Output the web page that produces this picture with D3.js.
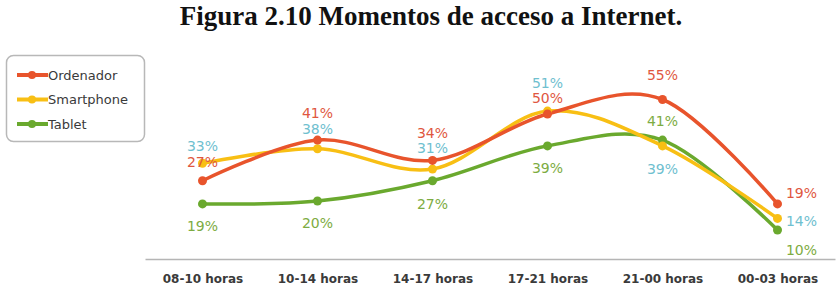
<!DOCTYPE html>
<html>
<head>
<meta charset="utf-8">
<script src="https://cdn.jsdelivr.net/npm/d3@7"></script>
<style>
  body { margin: 0; background: #fff; }
  svg { display: block; }
</style>
</head>
<body>
<div id="container"></div>
<script>
/* DATA */
const categories = ["08-10 horas", "10-14 horas", "14-17 horas", "17-21 horas", "21-00 horas", "00-03 horas"];
const ordenador = [27, 41, 34, 50, 55, 19];
const smartphone = [33, 38, 31, 51, 39, 14];
const tablet = [19, 20, 27, 39, 41, 10];
const seriesNames = ["Ordenador", "Smartphone", "Tablet"];

/* CONSTANTS */
const width = 839;
const height = 299;

// label offsets (dx, dy) from each point, per series
const labelOffsets = {
  Ordenador:  [[0, -19], [0, -27], [0, -27], [0, -16], [0, -24], [24, -11]],
  Smartphone: [[0, -17], [0, -20], [0, -21], [0, -28], [0, 23], [24, 3]],
  Tablet:     [[0, 22], [0, 22], [0, 23], [0, 22], [0, -19], [24, 20]]
};

const lineColors = { Ordenador: "#e8542c", Smartphone: "#f8bf14", Tablet: "#6aa92e" };
const textColors = { Ordenador: "#e0573f", Smartphone: "#6fc0cf", Tablet: "#7dac42" };

const series = [
  { name: "Ordenador", values: ordenador },
  { name: "Smartphone", values: smartphone },
  { name: "Tablet", values: tablet }
];

const svg = d3.select("#container")
  .append("svg")
  .attr("width", width)
  .attr("height", height);

// title
svg.append("text")
  .attr("x", 431)
  .attr("y", 25)
  .attr("text-anchor", "middle")
  .style("font-family", "'Liberation Serif', 'Times New Roman', serif")
  .style("font-weight", "bold")
  .style("font-size", "27px")
  .attr("fill", "#111")
  .text("Figura 2.10 Momentos de acceso a Internet.");

/* SCALES */
const xScale = d3.scalePoint()
  .domain(categories)
  .range([145, 835])
  .padding(0.5);

const yScale = d3.scaleLinear()
  .domain([0, 55])
  .range([259, 99.5]);

/* AXIS */
const xAxis = svg.append("g")
  .attr("transform", "translate(0," + yScale(0) + ")")
  .call(d3.axisBottom(xScale).tickSize(0).tickPadding(15));

xAxis.select(".domain")
  .attr("stroke", "#b5b5b5")
  .attr("stroke-width", 1.5);

xAxis.selectAll("text")
  .style("font-family", "'DejaVu Sans', Verdana, sans-serif")
  .style("font-size", "12px")
  .style("font-weight", "bold")
  .attr("fill", "#3a3a3a");

/* LINES */
const line = d3.line()
  .x((d, i) => xScale(categories[i]))
  .y(d => yScale(d))
  .curve(d3.curveCardinal);

// draw tablet first, ordenador on top
const drawOrder = [series[2], series[1], series[0]];

svg.selectAll(".series-line")
  .data(drawOrder)
  .join("path")
  .attr("class", "series-line")
  .attr("d", d => line(d.values))
  .attr("fill", "none")
  .attr("stroke", d => lineColors[d.name])
  .attr("stroke-width", 3.5)
  .attr("stroke-linecap", "round");

drawOrder.forEach(s => {
  svg.selectAll(".dot-" + s.name)
    .data(s.values)
    .join("circle")
    .attr("class", "dot-" + s.name)
    .attr("cx", (d, i) => xScale(categories[i]))
    .attr("cy", d => yScale(d))
    .attr("r", 4.5)
    .attr("fill", lineColors[s.name]);
});

/* LABELS */
series.forEach(s => {
  svg.selectAll(".lbl-" + s.name)
    .data(s.values)
    .join("text")
    .attr("class", "lbl-" + s.name)
    .attr("x", (d, i) => xScale(categories[i]) + labelOffsets[s.name][i][0])
    .attr("y", (d, i) => yScale(d) + labelOffsets[s.name][i][1])
    .attr("dy", "0.35em")
    .attr("text-anchor", "middle")
    .style("font-family", "'DejaVu Sans', Verdana, sans-serif")
    .style("font-size", "14px")
    .attr("fill", textColors[s.name])
    .text(d => d + "%");
});

/* LEGEND */
const legend = svg.append("g");

legend.append("rect")
  .attr("x", 6.5)
  .attr("y", 55.5)
  .attr("width", 138)
  .attr("height", 86)
  .attr("rx", 7)
  .attr("fill", "#fff")
  .attr("stroke", "#b8b8b8")
  .attr("stroke-width", 1.5);

const legendY = d3.scalePoint()
  .domain(seriesNames)
  .range([75, 124]);

seriesNames.forEach(name => {
  const y = legendY(name);
  legend.append("line")
    .attr("x1", 17).attr("x2", 48)
    .attr("y1", y).attr("y2", y)
    .attr("stroke", lineColors[name])
    .attr("stroke-width", 4);
  legend.append("circle")
    .attr("cx", 32).attr("cy", y)
    .attr("r", 4)
    .attr("fill", lineColors[name]);
  legend.append("text")
    .attr("x", 48)
    .attr("y", y)
    .attr("dy", "0.35em")
    .style("font-family", "'DejaVu Sans', Verdana, sans-serif")
    .style("font-size", "13px")
    .attr("fill", "#3a3a3a")
    .text(name);
});
</script>
</body>
</html>
